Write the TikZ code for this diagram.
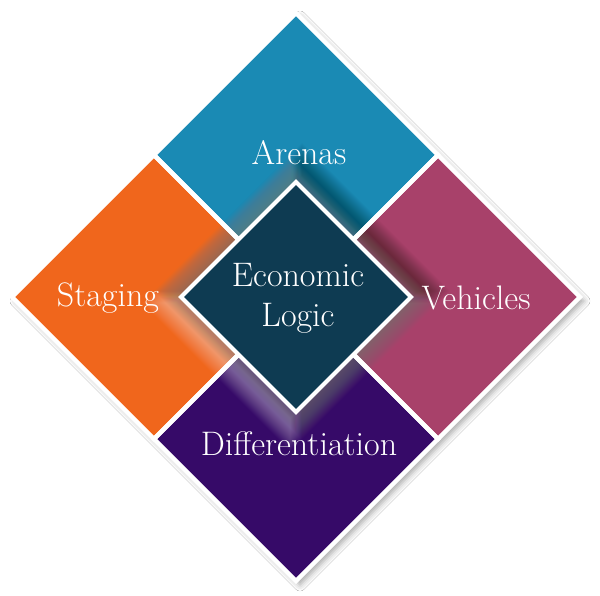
\documentclass[tikz,border=0pt]{standalone}
\usetikzlibrary{shapes.geometric, shadows.blur}

\definecolor{arenasblue}{HTML}{1A8AB4}
\definecolor{stagingorange}{HTML}{F0661C}
\definecolor{vehiclespink}{HTML}{A8416A}
\definecolor{diffpurple}{HTML}{360A68}
\definecolor{logicteal}{HTML}{0E3B52}

\begin{document}
\begin{tikzpicture}[x = 1pt, y = -1pt,
    tile/.style = {diamond, aspect = 1, minimum size = 284pt, inner sep = 0pt, outer sep = 0pt},
    rim/.style = {draw = white, line width = 4.5pt},
    caption/.style = {text = white, font = \fontsize{34}{40}\selectfont, inner sep = 0pt, align = center}]
  \useasboundingbox (0,0) rectangle (600,596);
  \fill[white] (0,0) rectangle (600,596);

  % shadow of the whole square
  \node[tile, minimum size = 568pt, fill = white,
        blur shadow = {shadow xshift = 4pt, shadow yshift = -4pt, shadow blur radius = 6pt, shadow opacity = 35}]
        (frame) at (296,297) {};

  \node[tile, fill = arenasblue]    (arenas)   at (296,155) {};
  \node[tile, fill = stagingorange] (staging)  at (154,297) {};
  \node[tile, fill = vehiclespink]  (vehicles) at (438,297) {};
  \node[tile, fill = diffpurple]    (diff)     at (296,439) {};

  % light and shade round the middle piece
  \foreach \r in {116,...,148}
  {
    \fill[white, opacity = .02] (290-\r,303) -- (290,303-\r) -- (290+\r,303) -- (290,303+\r) -- cycle;
    \fill[black, opacity = .014] (302-\r,291) -- (302,291-\r) -- (302+\r,291) -- (302,291+\r) -- cycle;
  }

  \foreach \t in {arenas, staging, vehicles, diff}
    \draw[rim] (\t.north) -- (\t.east) -- (\t.south) -- (\t.west) -- cycle;

  \node[tile, minimum size = 230pt, fill = logicteal, rim, line width = 4pt] (logic) at (296,297) {};

  \node[caption, anchor = base] (arenas-text)   at ([shift={(3,10)}]arenas.center)   {Arenas};
  \node[caption, anchor = base] (staging-text)  at ([shift={(-46,9)}]staging.center) {Staging};
  \node[caption, anchor = base] (vehicles-text) at ([shift={(38,12)}]vehicles.center) {Vehicles};
  \node[caption, anchor = base] (diff-text)     at ([shift={(3,16)}]diff.center)     {Differentiation};
  \node[caption]                (logic-text)    at ([shift={(2,1)}]logic.center)     {Economic\\Logic};
\end{tikzpicture}
\end{document}
